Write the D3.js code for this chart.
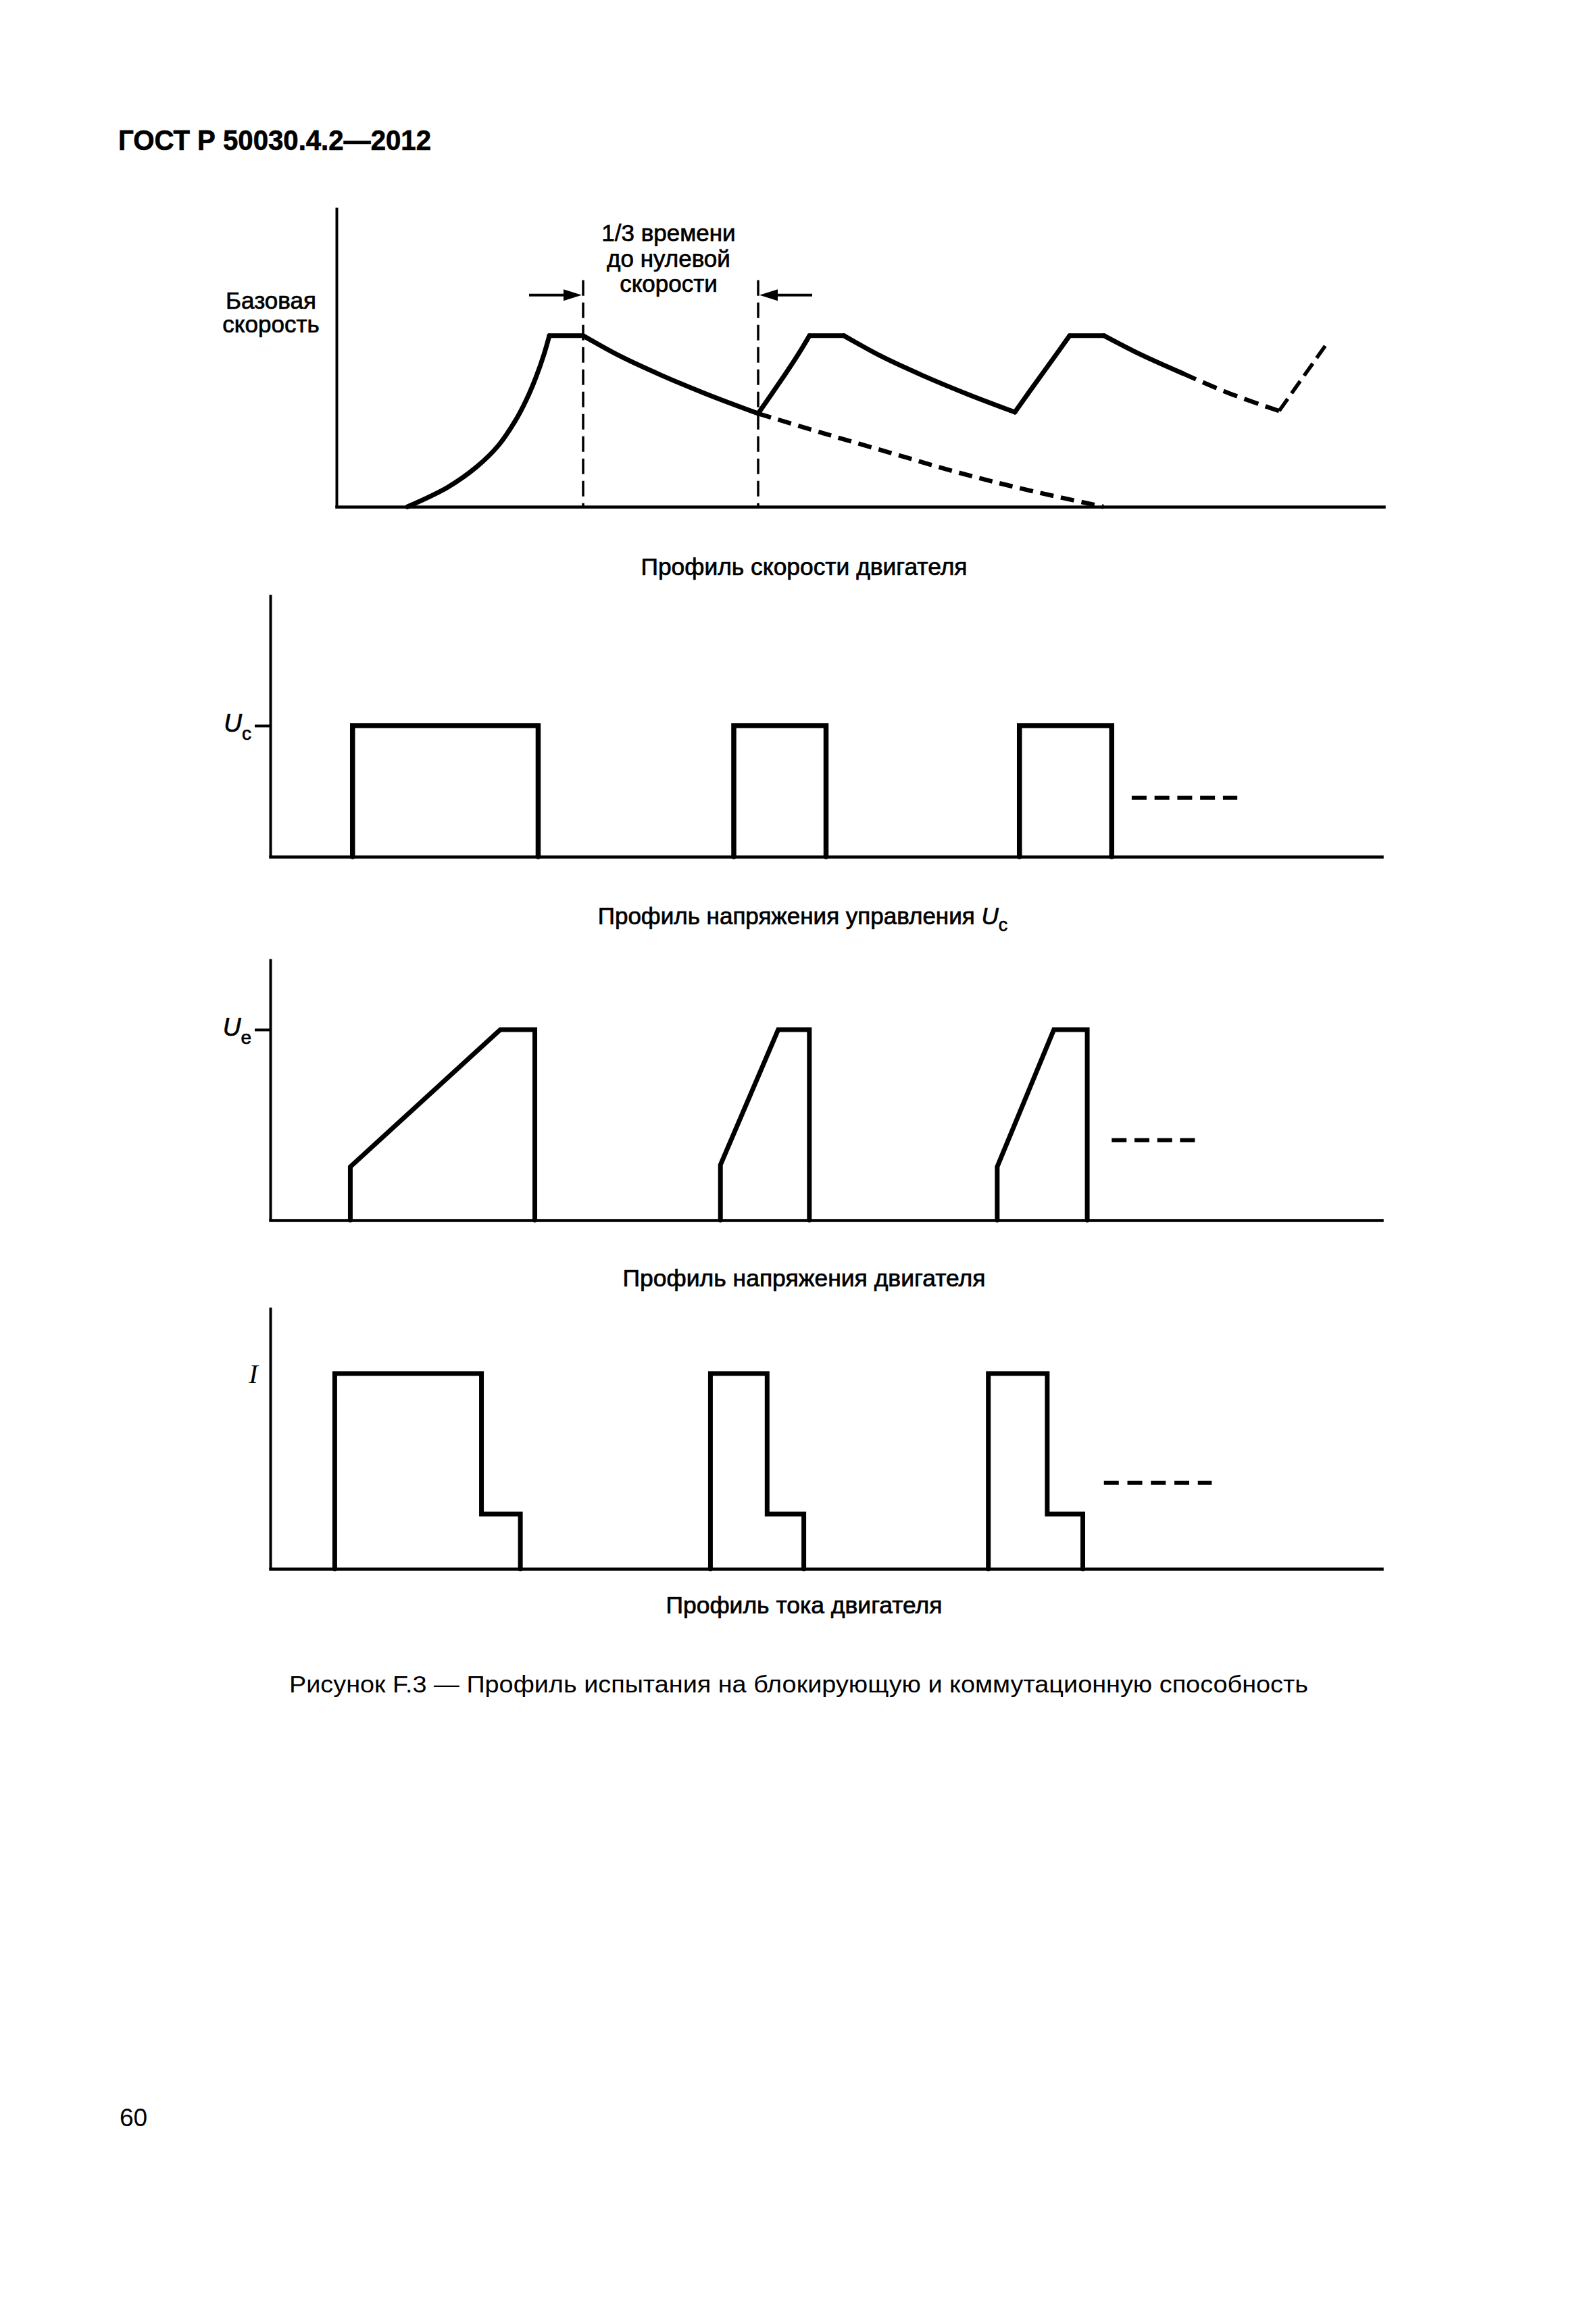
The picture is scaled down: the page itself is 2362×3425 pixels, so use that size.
<!DOCTYPE html>
<html lang="ru">
<head>
<meta charset="utf-8">
<title>ГОСТ Р 50030.4.2—2012, рисунок F.3</title>
<script src="https://cdn.jsdelivr.net/npm/d3@7"></script>
<style>
    html, body { margin: 0; padding: 0; background: #fff; }
    svg { display: block; font-family: "Liberation Sans", Arial, sans-serif; }
    .heavy { stroke: #000; stroke-width: 0.7px; }
</style>
</head>
<body>
<svg id="page" width="2362" height="3425"></svg>
<script>
(function () {
    'use strict';

    // Профиль скорости: время (усл. ед.), скорость (% базовой)
    const speedAccel1 = [[10.5, 0], [16.5, 11.5], [20.8, 23.5], [24, 36], [26.5, 50.5], [28.1, 62.5], [29.5, 75.5], [30.7, 89], [31.5, 100]];
    const speedHold1 = [[31.5, 100], [36.5, 100]];
    const speedCoast1 = [[36.5, 100], [42, 88], [48, 77], [55, 65.5], [62.4, 54.5]];
    const speedAccel2 = [[62.4, 54.5], [64.5, 66.5], [66.5, 78], [68.4, 89.5], [70, 100]];
    const speedHold2 = [[70, 100], [75.1, 100]];
    const speedCoast2 = [[75.1, 100], [80.6, 88], [86.6, 77], [93.4, 65.8], [100.4, 55.3]];
    const speedAccel3 = [[100.4, 55.3], [102.5, 67], [104.6, 78.5], [106.6, 89.5], [108.5, 100]];
    const speedHold3 = [[108.5, 100], [113.6, 100]];
    const speedCoast3 = [[113.6, 100], [119, 89], [125.2, 78]];
    // штриховые участки
    const speedToZero = [[62.4, 54.5], [72, 43], [82, 31.5], [92, 20], [102, 10], [113.5, 0]];
    const speedCoast3Tail = [[125.2, 78], [132, 66.5], [139.5, 56]];
    const speedAccel4Tail = [[139.5, 56], [146.5, 95]];
    const markerTimes = [36.5, 62.4];
    const markerTop = 132.4;
    const arrowLevel = 123.7;
    const arrowTails = [28.5, 70.4];
    const annotationLines = ['1/3 времени', 'до нулевой', 'скорости'];

    // Напряжение управления Uc: [включение, выключение]
    const ucPulses = [[7.4, 24.1], [41.7, 50.0], [67.4, 75.7]];
    const ucTrail = [[77.5, 0.45], [87.0, 0.45]];

    // Напряжение двигателя Ue
    const uePulses = [
        [[7.2, 0], [7.2, 0.28], [20.7, 1], [23.8, 1], [23.8, 0]],
        [[40.5, 0], [40.5, 0.29], [45.7, 1], [48.5, 1], [48.5, 0]],
        [[65.4, 0], [65.4, 0.28], [70.5, 1], [73.5, 1], [73.5, 0]]
    ];
    const ueTrail = [[75.7, 0.42], [83.3, 0.42]];

    // Ток двигателя I
    const iPulses = [
        [[5.8, 0], [5.8, 1], [19.0, 1], [19.0, 0.28], [22.5, 0.28], [22.5, 0]],
        [[39.6, 0], [39.6, 1], [44.7, 1], [44.7, 0.28], [48.0, 0.28], [48.0, 0]],
        [[64.6, 0], [64.6, 1], [69.9, 1], [69.9, 0.28], [73.1, 0.28], [73.1, 0]]
    ];
    const iTrail = [[75.0, 0.44], [84.7, 0.44]];

    const svg = d3.select('#page');

    function fitWidth(sel, width) {
        const w = sel.node().getComputedTextLength();
        if (Math.abs(w - width) > width * 0.01) {
            sel.attr('textLength', width).attr('lengthAdjust', 'spacingAndGlyphs');
        }
        return sel;
    }

    function makePanel(left, right, top, base, xDomain, yDomain) {
        const g = svg.append('g');
        const x = d3.scaleLinear().domain(xDomain).range([left, right]);
        const y = d3.scaleLinear().domain(yDomain).range([base, top]);
        return { g: g, x: x, y: y };
    }

    function drawAxes(p, tickValue) {
        const yAxis = d3.axisLeft(p.y)
            .tickValues(tickValue == null ? [] : [tickValue])
            .tickSize(23)
            .tickSizeOuter(0)
            .tickFormat('');
        p.g.append('g')
            .attr('transform', `translate(${p.x.range()[0]},0)`)
            .call(yAxis)
            .call(g => g.select('.domain').attr('stroke', '#000').attr('stroke-width', 4))
            .call(g => g.selectAll('.tick line').attr('stroke', '#000').attr('stroke-width', 4));

        const xAxis = d3.axisBottom(p.x).tickValues([]).tickSizeOuter(0);
        p.g.append('g')
            .attr('transform', `translate(0,${p.y(0)})`)
            .call(xAxis)
            .call(g => g.select('.domain').attr('stroke', '#000').attr('stroke-width', 4.5).attr('stroke-linecap', 'square'));
    }

    function trace(p, points, width, dash, curve) {
        const line = d3.line()
            .x(d => p.x(d[0]))
            .y(d => p.y(d[1]))
            .curve(curve || d3.curveLinear);
        return p.g.append('path')
            .attr('d', line(points))
            .attr('fill', 'none')
            .attr('stroke', '#000')
            .attr('stroke-width', width)
            .attr('stroke-dasharray', dash || null)
            .attr('stroke-linejoin', 'miter')
            .attr('stroke-linecap', dash ? 'butt' : 'round');
    }

    function subLabel(p, xRight, value, main, sub, yShift) {
        const t = p.g.append('text')
            .attr('class', 'heavy')
            .attr('x', xRight)
            .attr('y', p.y(value) + (yShift || 9))
            .attr('text-anchor', 'end')
            .attr('font-size', 37);
        t.append('tspan').attr('font-style', 'italic').text(main);
        t.append('tspan').attr('font-size', 28).attr('dy', 12).text(sub);
    }

    function caption(text, y, width) {
        const t = svg.append('text')
            .attr('class', 'heavy')
            .attr('x', 1190)
            .attr('y', y)
            .attr('text-anchor', 'middle')
            .attr('font-size', 35)
            .text(text);
        return width ? fitWidth(t, width) : t;
    }

    // шапка страницы
    fitWidth(svg.append('text')
        .attr('class', 'heavy')
        .attr('x', 175).attr('y', 222)
        .attr('font-size', 42).attr('font-weight', 'bold')
        .text('ГОСТ Р 50030.4.2—2012'), 463);

    // 1. Профиль скорости двигателя
    const speed = makePanel(498, 2048, 307, 750, [0, 155], [0, 175]);
    drawAxes(speed, null);

    const smooth = d3.curveCatmullRom.alpha(0.5);
    [speedAccel1, speedHold1, speedCoast1, speedAccel2, speedHold2, speedCoast2, speedAccel3, speedHold3, speedCoast3]
        .forEach(seg => trace(speed, seg, 7, null, smooth));
    trace(speed, speedToZero, 6.5, '20,11', smooth);
    trace(speed, speedCoast3Tail, 6.5, '22,11', smooth);
    trace(speed, speedAccel4Tail, 5.5, '22,10');

    markerTimes.forEach(t => trace(speed, [[t, markerTop], [t, 0]], 3.5, '23,10'));

    // стрелки к вертикальным меткам
    arrowTails.forEach((tail, i) => {
        const tipX = speed.x(markerTimes[i]) + (i === 0 ? -2 : 2),
            dir = i === 0 ? 1 : -1,
            yy = speed.y(arrowLevel),
            headLen = 27,
            headHalf = 8.5;
        speed.g.append('line')
            .attr('x1', speed.x(tail)).attr('x2', tipX - dir * headLen + dir * 2)
            .attr('y1', yy).attr('y2', yy)
            .attr('stroke', '#000').attr('stroke-width', 4);
        speed.g.append('path')
            .attr('d', `M${tipX},${yy}L${tipX - dir * headLen},${yy - headHalf}L${tipX - dir * headLen},${yy + headHalf}Z`)
            .attr('fill', '#000');
    });

    const midX = speed.x((markerTimes[0] + markerTimes[1]) / 2) - 3;
    speed.g.selectAll('text.note')
        .data(annotationLines)
        .enter()
        .append('text')
        .attr('class', 'note heavy')
        .attr('x', midX)
        .attr('y', (d, i) => 357 + i * 37.5)
        .attr('text-anchor', 'middle')
        .attr('font-size', 35)
        .text(d => d);

    const baseLabel = speed.g.append('text')
        .attr('class', 'heavy')
        .attr('x', 401)
        .attr('text-anchor', 'middle')
        .attr('font-size', 35);
    baseLabel.append('tspan').attr('x', 401).attr('y', speed.y(100) - 40).text('Базовая');
    baseLabel.append('tspan').attr('x', 401).attr('y', speed.y(100) - 5).text('скорость');

    caption('Профиль скорости двигателя', 851, 483);

    // 2. Профиль напряжения управления Uc
    const uc = makePanel(400, 2045, 880, 1268, [0, 100], [0, 2]);
    drawAxes(uc, 1);
    ucPulses.forEach(pl => trace(uc, [[pl[0], 0], [pl[0], 1], [pl[1], 1], [pl[1], 0]], 7.5));
    trace(uc, ucTrail, 6, '22,11.75');
    subLabel(uc, 372, 1, 'U', 'c');

    const cap2 = svg.append('text')
        .attr('class', 'heavy')
        .attr('x', 1188)
        .attr('y', 1368)
        .attr('text-anchor', 'middle')
        .attr('font-size', 35);
    cap2.append('tspan').text('Профиль напряжения управления ');
    cap2.append('tspan').attr('font-style', 'italic').text('U');
    cap2.append('tspan').attr('font-size', 27).attr('dy', 10).text('c');

    // 3. Профиль напряжения двигателя
    const ue = makePanel(400, 2045, 1419, 1806, [0, 100], [0, 1.372]);
    drawAxes(ue, 1);
    uePulses.forEach(pl => trace(ue, pl, 7));
    trace(ue, ueTrail, 6, '22,11.7');
    subLabel(ue, 372, 1, 'U', 'e');

    caption('Профиль напряжения двигателя', 1904, 537);

    // 4. Профиль тока двигателя
    const cur = makePanel(400, 2045, 1935, 2322, [0, 100], [0, 1.339]);
    drawAxes(cur, null);
    iPulses.forEach(pl => trace(cur, pl, 7));
    trace(cur, iTrail, 6, '22,12.75');
    cur.g.append('text')
        .attr('x', 375)
        .attr('y', cur.y(1) + 14)
        .attr('text-anchor', 'middle')
        .attr('font-family', '"Liberation Serif", "Times New Roman", serif')
        .attr('font-style', 'italic')
        .attr('font-size', 40)
        .text('I');

    caption('Профиль тока двигателя', 2388, 409);

    // подпись рисунка и номер страницы
    const fig = svg.append('text')
        .attr('x', 1182)
        .attr('y', 2505)
        .attr('text-anchor', 'middle')
        .attr('font-size', 35)
        .text('Рисунок F.3 — Профиль испытания на блокирующую и коммутационную способность');
    fitWidth(fig, 1508);

    svg.append('text')
        .attr('x', 177)
        .attr('y', 3147)
        .attr('font-size', 37)
        .text('60');
})();
</script>
</body>
</html>
